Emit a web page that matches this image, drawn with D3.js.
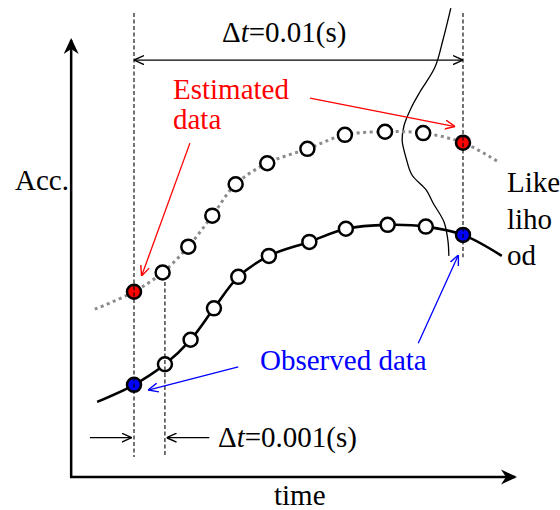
<!DOCTYPE html>
<html>
<head>
<meta charset="utf-8">
<script src="https://cdn.jsdelivr.net/npm/d3@7"></script>
<style>
  html, body { margin: 0; padding: 0; background: #fff; }
  svg { display: block; }
  text { font-family: "Liberation Serif", "Times New Roman", serif; }
</style>
</head>
<body>
<script>
// ---- data (time in ms, acceleration in arbitrary units) ----
const observedT   = [-1.12, 0, 0.94, 1.72, 2.43, 3.17, 4.10, 5.33, 6.44, 7.71, 8.87, 10, 11.18];
const observedAcc = [1.72, 2.11, 2.58, 3.14, 3.86, 4.58, 5.06, 5.38, 5.68, 5.77, 5.73, 5.54, 5.06];
const estimatedT   = [-1.19, 0, 0.87, 1.65, 2.38, 3.09, 4.05, 5.27, 6.41, 7.63, 8.79, 10, 11.12];
const estimatedAcc = [3.84, 4.24, 4.68, 5.27, 5.98, 6.70, 7.18, 7.51, 7.83, 7.90, 7.87, 7.65, 7.19];
// indices: first and last are line extensions (no marker); 1 and 11 are highlighted
const likelihoodT   = [9.63, 9.39, 9.15, 8.69, 8.42, 8.21, 8.15, 8.27, 8.45, 8.88, 9.09, 9.42, 9.54, 9.57];
const likelihoodAcc = [10.73, 10.00, 9.38, 8.81, 8.44, 8.05, 7.71, 7.30, 6.91, 6.57, 6.27, 5.84, 5.42, 5.06];

// guide lines (t, acc from, acc to)
const guideT    = [0, 0.94, 10];
const guideTop  = [10.62, 4.46, 10.62];
const guideBot  = [0.46, 0.46, 5.03];

// annotation arrows [t1, acc1, t2, acc2]
const dimArrow01  = [0, 9.54, 10, 9.54];
const dimArrow001 = [[-1.34, 0.90, -0.07, 0.90], [2.29, 0.90, 0.99, 0.90]];
const redArrows   = [[5.35, 8.67, 9.76, 8.02], [1.70, 7.64, 0.23, 4.60]];
const blueArrows  = [[8.64, 3.06, 9.86, 5.08], [3.17, 2.52, 0.43, 1.99]];

const axisT = [-1.91, 11.58];
const axisAcc = [0, 10];

const labelEstimated = ["Estimated", "data"];
const labelObserved = "Observed data";
const labelLikelihood = ["Like", "liho", "od"];
const labelY = "Acc.";
const labelX = "time";

// ---- scales ----
const W = 560, H = 510;
const x = d3.scaleLinear().domain([0, 10]).range([134, 463]);
const y = d3.scaleLinear().domain([0, 10]).range([477, 40]);

const svg = d3.select("body").append("svg").attr("width", W).attr("height", H);

const defs = svg.append("defs");
function vMarker(id, color) {
  defs.append("marker").attr("id", id).attr("viewBox", "0 -5 10 10")
    .attr("refX", 10).attr("refY", 0).attr("markerWidth", 10).attr("markerHeight", 10)
    .attr("markerUnits", "userSpaceOnUse").attr("orient", "auto-start-reverse")
    .append("path").attr("d", "M0,-4.5L10,0L0,4.5").attr("fill", "none")
    .attr("stroke", color).attr("stroke-width", 1.4);
}
vMarker("vBlack", "#000");
vMarker("vRed", "#ff0000");
vMarker("vBlue", "#0000ff");
defs.append("marker").attr("id", "axisHead").attr("viewBox", "0 -8 16 16")
  .attr("refX", 14).attr("refY", 0).attr("markerWidth", 16).attr("markerHeight", 16)
  .attr("markerUnits", "userSpaceOnUse").attr("orient", "auto")
  .append("path").attr("d", "M0,-7.5L16,0L0,7.5L5,0Z").attr("fill", "#000");

// ---- axes ----
svg.append("line").attr("x1", x(axisT[0])).attr("y1", y(axisAcc[0]))
  .attr("x2", x(axisT[0])).attr("y2", y(axisAcc[1]))
  .attr("stroke", "#000").attr("stroke-width", 2.5).attr("marker-end", "url(#axisHead)");
svg.append("line").attr("x1", x(axisT[0]) - 1.2).attr("y1", y(axisAcc[0]))
  .attr("x2", x(axisT[1])).attr("y2", y(axisAcc[0]))
  .attr("stroke", "#000").attr("stroke-width", 2.5).attr("marker-end", "url(#axisHead)");

// ---- likelihood curve ----
const likePts = likelihoodT.map((t, i) => [t, likelihoodAcc[i]]);
svg.append("path").datum(likePts)
  .attr("d", d3.line().x(d => x(d[0])).y(d => y(d[1])).curve(d3.curveCatmullRom.alpha(0.5)))
  .attr("fill", "none").attr("stroke", "#000").attr("stroke-width", 1.3);

// ---- series lines ----
const lineGen = d3.line().x(d => x(d[0])).y(d => y(d[1])).curve(d3.curveCatmullRom.alpha(0.5));
const estPts = estimatedT.map((t, i) => [t, estimatedAcc[i]]);
const obsPts = observedT.map((t, i) => [t, observedAcc[i]]);
svg.append("path").datum(estPts).attr("d", lineGen)
  .attr("fill", "none").attr("stroke", "#8c8c8c").attr("stroke-width", 3)
  .attr("stroke-dasharray", "3,3.5");
svg.append("path").datum(obsPts).attr("d", lineGen)
  .attr("fill", "none").attr("stroke", "#000").attr("stroke-width", 2.6);

// ---- markers ----
function drawMarkers(pts, hiColor) {
  const inner = pts.slice(1, pts.length - 1);
  svg.append("g").selectAll("circle").data(inner).join("circle")
    .attr("cx", d => x(d[0])).attr("cy", d => y(d[1])).attr("r", 7)
    .attr("fill", (d, i) => (i === 0 || i === inner.length - 1) ? hiColor : "#fff")
    .attr("stroke", "#000").attr("stroke-width", 2.5);
}
drawMarkers(estPts, "#ff0000");
drawMarkers(obsPts, "#0000ff");

// ---- dashed guides ----
svg.append("g").selectAll("line").data(guideT).join("line")
  .attr("x1", d => x(d)).attr("x2", d => x(d))
  .attr("y1", (d, i) => y(guideTop[i])).attr("y2", (d, i) => y(guideBot[i]))
  .attr("stroke", "#000").attr("stroke-width", 1.1).attr("stroke-dasharray", "4,2.5");

// ---- arrows ----
function arrow(a, color, marker, both) {
  const l = svg.append("line").attr("x1", x(a[0])).attr("y1", y(a[1]))
    .attr("x2", x(a[2])).attr("y2", y(a[3]))
    .attr("stroke", color).attr("stroke-width", 1.3).attr("marker-end", `url(#${marker})`);
  if (both) l.attr("marker-start", `url(#${marker})`);
}
arrow(dimArrow01, "#000", "vBlack", true);
dimArrow001.forEach(a => arrow(a, "#000", "vBlack", false));
redArrows.forEach(a => arrow(a, "#ff0000", "vRed", false));
blueArrows.forEach(a => arrow(a, "#0000ff", "vBlue", false));

// ---- texts ----
const fs = 29;
function dtText(px, py, rest) {
  const t = svg.append("text").attr("x", px).attr("y", py).attr("font-size", fs).attr("fill", "#000");
  t.append("tspan").text("\u0394");
  t.append("tspan").attr("font-style", "italic").text("t");
  t.append("tspan").text(rest);
}
dtText(222, 42, "=0.01(s)");
dtText(218, 447, "=0.001(s)");

svg.append("g").selectAll("text").data(labelEstimated).join("text")
  .attr("x", 173).attr("y", (d, i) => 99 + i * 30).attr("font-size", fs)
  .attr("fill", "#ff0000").text(d => d);
svg.append("text").attr("x", 260).attr("y", 370).attr("font-size", fs)
  .attr("fill", "#0000ff").text(labelObserved);
svg.append("g").selectAll("text").data(labelLikelihood).join("text")
  .attr("x", 507).attr("y", (d, i) => 192 + i * 36.5).attr("font-size", fs)
  .attr("fill", "#000").text(d => d);
svg.append("text").attr("x", 15).attr("y", 190).attr("font-size", fs).text(labelY);
svg.append("text").attr("x", 274).attr("y", 505).attr("font-size", fs).text(labelX);
</script>
</body>
</html>
